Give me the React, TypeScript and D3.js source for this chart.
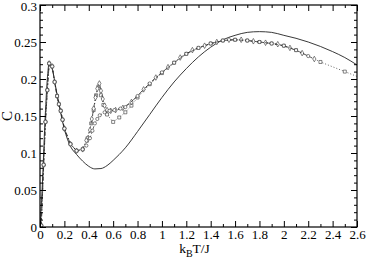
import React, { useRef, useEffect } from 'react';
import * as d3 from 'd3';

// tick values
const xTicks = [0, 0.2, 0.4, 0.6, 0.8, 1, 1.2, 1.4, 1.6, 1.8, 2, 2.2, 2.4, 2.6];
const xMinor = [0.1, 0.3, 0.5, 0.7, 0.9, 1.1, 1.3, 1.5, 1.7, 1.9, 2.1, 2.3, 2.5];
const yTicks = [0, 0.05, 0.1, 0.15, 0.2, 0.25, 0.3];
const yMinor = [0.01, 0.02, 0.03, 0.04, 0.06, 0.07, 0.08, 0.09, 0.11, 0.12, 0.13, 0.14,
  0.16, 0.17, 0.18, 0.19, 0.21, 0.22, 0.23, 0.24, 0.26, 0.27, 0.28, 0.29];

// low temperature part, common to the three simulated series
const lowT = [0.01, 0.03, 0.045, 0.06, 0.075, 0.1, 0.12, 0.14, 0.155, 0.17, 0.185, 0.2, 0.25, 0.3, 0.35];
const lowC = [0.002, 0.084, 0.142, 0.185, 0.221, 0.217, 0.196, 0.177, 0.166, 0.157, 0.145, 0.133, 0.112, 0.103, 0.105];

// circles
const circT = [0.38, 0.41, 0.43, 0.45, 0.47, 0.49, 0.53, 0.57, 0.61, 0.66, 0.7, 0.8, 0.9, 1.0, 1.1, 1.2, 1.3, 1.4, 1.5, 1.6, 1.7, 1.8, 1.9, 2.0, 2.1, 2.2];
const circC = [0.11, 0.12, 0.13, 0.14, 0.146, 0.151, 0.155, 0.157, 0.158, 0.16, 0.162, 0.177, 0.194, 0.209, 0.222, 0.234, 0.242, 0.248, 0.252, 0.253, 0.252, 0.25, 0.248, 0.245, 0.239, 0.231];

// diamonds
const diamT = [0.38, 0.41, 0.425, 0.44, 0.455, 0.47, 0.487, 0.5, 0.515, 0.53, 0.55, 0.58, 0.62, 0.68, 0.75, 0.85, 0.95, 1.05, 1.15, 1.25, 1.35, 1.45, 1.55, 1.65, 1.75, 1.85, 1.95, 2.05, 2.15, 2.25];
const diamC = [0.117, 0.131, 0.146, 0.16, 0.175, 0.187, 0.194, 0.184, 0.173, 0.164, 0.158, 0.157, 0.158, 0.161, 0.169, 0.186, 0.202, 0.216, 0.229, 0.239, 0.245, 0.25, 0.253, 0.253, 0.251, 0.249, 0.247, 0.242, 0.235, 0.227];

// squares
const sqT = [0.39, 0.42, 0.44, 0.46, 0.48, 0.5, 0.52, 0.55, 0.6, 0.65, 0.7, 0.75, 0.8, 0.9, 1.0, 1.1, 1.2, 1.3, 1.4, 1.5, 1.6, 1.7, 1.8, 1.9, 2.0, 2.1, 2.3, 2.5, 2.7];
const sqC = [0.12, 0.14, 0.158, 0.178, 0.19, 0.178, 0.165, 0.152, 0.142, 0.148, 0.155, 0.164, 0.175, 0.193, 0.208, 0.222, 0.234, 0.242, 0.248, 0.252, 0.253, 0.252, 0.25, 0.248, 0.245, 0.239, 0.223, 0.21, 0.197];

// solid curve
const solidT = [0, 0.02, 0.04, 0.06, 0.075, 0.1, 0.13, 0.16, 0.2, 0.25, 0.3, 0.35, 0.4, 0.45, 0.5, 0.55, 0.6, 0.65, 0.7, 0.8, 0.9, 1.0, 1.1, 1.2, 1.3, 1.4, 1.5, 1.6, 1.7, 1.8, 1.9, 2.0, 2.1, 2.2, 2.3, 2.4, 2.5, 2.6];
const solidC = [0, 0.06, 0.14, 0.2, 0.221, 0.214, 0.188, 0.162, 0.132, 0.109, 0.098, 0.089, 0.082, 0.0785, 0.079, 0.083, 0.09, 0.098, 0.107, 0.129, 0.152, 0.175, 0.196, 0.214, 0.23, 0.243, 0.253, 0.259, 0.263, 0.264, 0.263, 0.259, 0.255, 0.25, 0.244, 0.237, 0.229, 0.219];

const FONT = "Liberation Serif";

const App = () => {
  const svgRef = useRef(null);
  const width = 366;
  const height = 260;

  useEffect(() => {
    const svg = d3.select(svgRef.current);
    svg.selectAll("*").remove();

    const margin = { top: 5, right: 9, bottom: 33, left: 40 };
    const x = d3.scaleLinear().domain([0, 2.6]).range([margin.left, width - margin.right]);
    const y = d3.scaleLinear().domain([0, 0.3]).range([height - margin.bottom, margin.top]);
    const x0 = x.range()[0], x1 = x.range()[1];
    const y0 = y.range()[0], y1 = y.range()[1];

    svg.append("defs").append("clipPath").attr("id", "plotClip")
      .append("rect").attr("x", x0).attr("y", y1).attr("width", x1 - x0).attr("height", y0 - y1);

    const toPts = (ts, cs) => ts.map((t, i) => [t, cs[i]]);
    const plot = svg.append("g").attr("clip-path", "url(#plotClip)");

    // solid curve
    plot.append("path")
      .datum(toPts(solidT, solidC))
      .attr("d", d3.line().x(d => x(d[0])).y(d => y(d[1])).curve(d3.curveMonotoneX))
      .attr("fill", "none").attr("stroke", "#222").attr("stroke-width", 0.9);

    const series = [
      { pts: toPts(lowT.concat(sqT), lowC.concat(sqC)), dash: "1,2", sym: d3.symbolSquare, size: 9 },
      { pts: toPts(lowT.concat(diamT), lowC.concat(diamC)), dash: "4,2,1,2", sym: d3.symbolDiamond, size: 9 },
      { pts: toPts(lowT.concat(circT), lowC.concat(circC)), dash: "3,2", sym: d3.symbolCircle, size: 8 },
    ];

    const plainLine = d3.line().x(d => x(d[0])).y(d => y(d[1]));
    series.forEach(s => {
      plot.append("path")
        .datum(s.pts)
        .attr("d", plainLine)
        .attr("fill", "none").attr("stroke", "#222").attr("stroke-width", 0.7)
        .attr("stroke-dasharray", s.dash);
      plot.selectAll(null)
        .data(s.pts)
        .enter()
        .append("path")
        .attr("transform", d => `translate(${x(d[0])},${y(d[1])})`)
        .attr("d", d3.symbol().type(s.sym).size(s.size))
        .attr("fill", "#fff").attr("stroke", "#333").attr("stroke-width", 0.6);
    });

    // axes with inward ticks
    const styleAxis = g => {
      g.attr("font-family", FONT).attr("font-size", 13);
      g.select(".domain").remove();
      g.selectAll("line").attr("stroke", "#000").attr("stroke-width", 1);
      g.selectAll("text").attr("fill", "#000");
    };
    const fmt = d => String(d);

    svg.append("g").attr("transform", `translate(0,${y0})`)
      .call(d3.axisBottom(x).tickValues(xTicks).tickSize(-6).tickPadding(3).tickFormat(fmt)).call(styleAxis);
    svg.append("g").attr("transform", `translate(0,${y0})`)
      .call(d3.axisBottom(x).tickValues(xMinor).tickSize(-3).tickFormat("")).call(styleAxis);
    svg.append("g").attr("transform", `translate(0,${y1})`)
      .call(d3.axisTop(x).tickValues(xTicks).tickSize(-6).tickFormat("")).call(styleAxis);
    svg.append("g").attr("transform", `translate(0,${y1})`)
      .call(d3.axisTop(x).tickValues(xMinor).tickSize(-3).tickFormat("")).call(styleAxis);

    const yAxisG = svg.append("g").attr("transform", `translate(${x0},0)`)
      .call(d3.axisLeft(y).tickValues(yTicks).tickSize(-6).tickPadding(3).tickFormat(fmt)).call(styleAxis);
    // keep the top label inside the picture
    yAxisG.selectAll(".tick text").filter(d => d === 0.3).attr("dy", "0.42em");
    svg.append("g").attr("transform", `translate(${x0},0)`)
      .call(d3.axisLeft(y).tickValues(yMinor).tickSize(-3).tickFormat("")).call(styleAxis);
    svg.append("g").attr("transform", `translate(${x1},0)`)
      .call(d3.axisRight(y).tickValues(yTicks).tickSize(-6).tickFormat("")).call(styleAxis);
    svg.append("g").attr("transform", `translate(${x1},0)`)
      .call(d3.axisRight(y).tickValues(yMinor).tickSize(-3).tickFormat("")).call(styleAxis);

    // frame
    svg.append("rect")
      .attr("x", x0).attr("y", y1).attr("width", x1 - x0).attr("height", y0 - y1)
      .attr("fill", "none").attr("stroke", "#000").attr("stroke-width", 1.2);

    // axis titles
    svg.append("text")
      .attr("transform", `translate(12,${(y0 + y1) / 2}) rotate(-90)`)
      .attr("text-anchor", "middle")
      .attr("font-family", FONT).attr("font-size", 15)
      .text("C");

    const xl = svg.append("text")
      .attr("x", (x0 + x1) / 2 - 4).attr("y", 253)
      .attr("text-anchor", "middle")
      .attr("font-family", FONT).attr("font-size", 13.5);
    xl.append("tspan").text("k");
    xl.append("tspan").attr("dy", 4).attr("font-size", 10).text("B");
    xl.append("tspan").attr("dy", -4).text("T/J");
  }, []);

  return (
    <svg ref={svgRef} width={width} height={height}
      style={{ position: "absolute", left: 0, top: 0, background: "#fff" }} />
  );
};

export default App;
